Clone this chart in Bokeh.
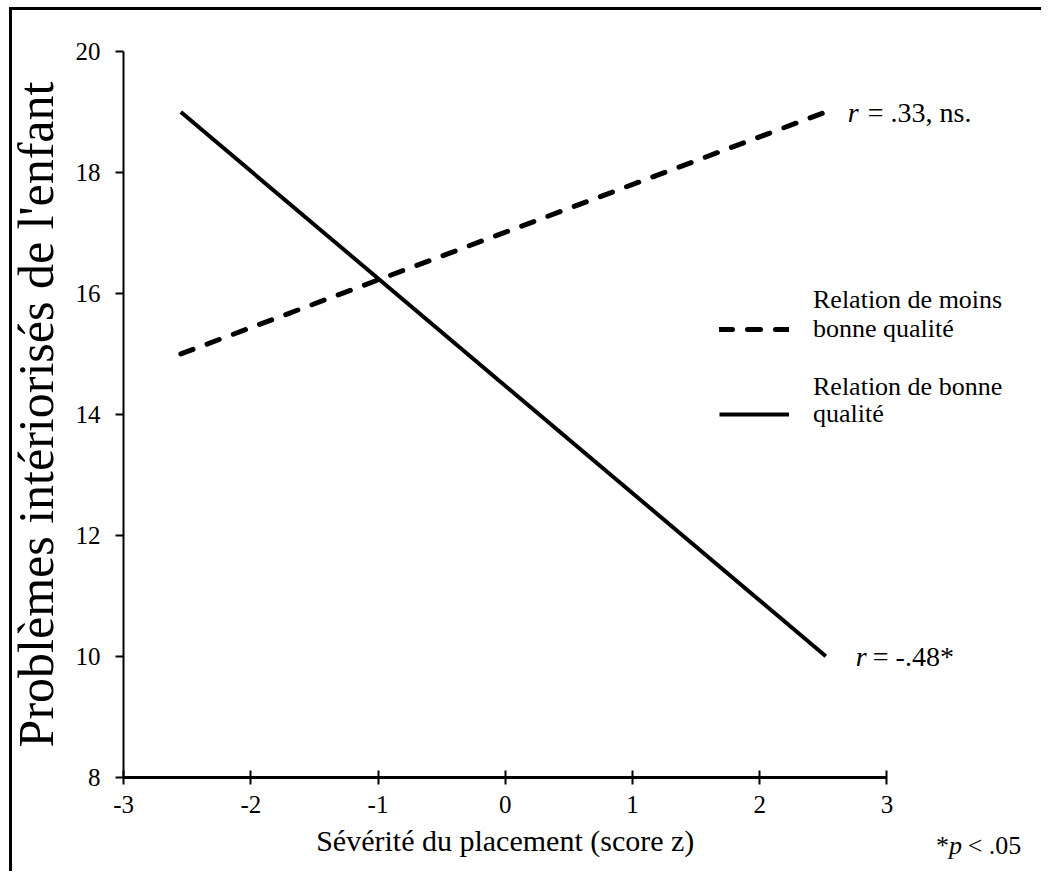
from bokeh.plotting import figure
from bokeh.models import Label, Legend, LegendItem, FixedTicker, Range1d
from bokeh.embed import file_html
from bokeh.resources import INLINE

# ---- data ----
x_ends = [-2.55, 2.52]
moins_bonne = [15, 19]      # Relation de moins bonne qualité (dashed)
bonne = [19, 10]            # Relation de bonne qualité (solid)
x_ticks = [-3, -2, -1, 0, 1, 2, 3]
y_ticks = [8, 10, 12, 14, 16, 18, 20]
r_moins = "= .33, ns."
r_bonne = "= -.48*"
x_title = "Sévérité du placement (score z)"
y_title = "Problèmes intériorisés de l'enfant"
legend_moins = ["Relation de moins", "bonne qualité"]
legend_bonne = ["Relation de bonne", "qualité"]
footnote = [("*", "normal"), ("p", "italic"), ("< .05", "normal")]

FONT = "Liberation Serif"

# ---- layout (canvas pixels) ----
W, H = 1041, 871
SX, SY = W / 1057, H / 887           # reference -> canvas scale
LEFT, TOP = 125 * SX, 52 * SY
AX_RIGHT, AX_BOTTOM = 900 * SX, 791 * SY
px_per_x = (AX_RIGHT - LEFT) / (x_ticks[-1] - x_ticks[0])
px_per_y = (AX_BOTTOM - TOP) / (y_ticks[-1] - y_ticks[0])
x_start = x_ticks[0] - LEFT / px_per_x
x_end = x_ticks[0] + (W - LEFT) / px_per_x
y_end = y_ticks[-1] + TOP / px_per_y
y_start = y_ticks[-1] - (H - TOP) / px_per_y

bg = ("linear-gradient(#000,#000) 9px 7px / 3px calc(100% - 7px) no-repeat, "
      "linear-gradient(#000,#000) 9px 7px / calc(100% - 9px) 3px no-repeat, white")

p = figure(frame_width=W, frame_height=H,
           x_range=Range1d(x_start, x_end), y_range=Range1d(y_start, y_end),
           min_border=0, min_border_left=0, min_border_top=0,
           min_border_right=0, min_border_bottom=0,
           output_backend="svg", toolbar_location=None,
           styles={"background": bg})

p.grid.visible = False
p.outline_line_color = None
p.background_fill_color = None
p.border_fill_color = None

# axes (pinned at x=-3 and y=8, spanning only the tick range)
p.xaxis.ticker = FixedTicker(ticks=x_ticks)
p.yaxis.ticker = FixedTicker(ticks=y_ticks)
p.xaxis.bounds = (x_ticks[0], x_ticks[-1])
p.yaxis.bounds = (y_ticks[0], y_ticks[-1])
p.xaxis.fixed_location = y_ticks[0]
p.yaxis.fixed_location = x_ticks[0]
p.xaxis.major_label_overrides = {t: str(t) for t in x_ticks}
for ax in (p.xaxis, p.yaxis):
    ax.axis_line_color = "black"
    ax.axis_line_width = 2
    ax.major_tick_line_color = "black"
    ax.major_tick_line_width = 2
    ax.minor_tick_line_color = None
    ax.major_label_text_font = FONT
    ax.major_label_text_font_size = "25px"
    ax.major_label_text_color = "black"
    ax.axis_label_text_font = FONT
    ax.axis_label_text_font_style = "normal"
    ax.axis_label_text_color = "black"

p.xaxis.major_tick_in = 7
p.xaxis.major_tick_out = 7
p.xaxis.axis_line_width = 3
p.xaxis.major_label_standoff = 12

p.yaxis.major_tick_in = 0
p.yaxis.major_tick_out = 8
p.yaxis.major_label_standoff = 15
p.yaxis.axis_label = y_title
p.yaxis.axis_label_text_font_size = "50px"
p.yaxis.axis_label_standoff = 9

# x axis title, centred under the tick span
p.add_layout(Label(x=(x_ticks[0] + x_ticks[-1]) / 2, y=y_ticks[0],
                   y_offset=-(855 - 791) * SY, text=x_title, text_font=FONT,
                   text_font_size="30px", text_align="center",
                   text_baseline="middle", text_color="black"))

# lines
dashed = p.line(x_ends, moins_bonne, line_color="black", line_width=5,
                line_dash="13 15", line_cap="round")
solid = p.line(x_ends, bonne, line_color="black", line_width=4)

# correlation labels
def rlabel(x, y, off_r, off_rest, rest):
    p.add_layout(Label(x=x, y=y, x_offset=off_r, text="r", text_font=FONT,
                       text_font_style="italic", text_font_size="28px",
                       text_baseline="middle", text_color="black"))
    p.add_layout(Label(x=x, y=y, x_offset=off_rest, text=rest, text_font=FONT,
                       text_font_size="28px", text_baseline="middle",
                       text_color="black"))

rlabel(x_ends[-1], moins_bonne[-1], 22, 42, r_moins)
rlabel(x_ends[-1], bonne[-1], 30, 47, r_bonne)

# legends (one per entry); positions in frame screen pixels
def add_legend(renderer, lines, item_cy, first_cy):
    leg = Legend(items=[LegendItem(label=lines[1], renderers=[renderer])],
                 location=(730 * SX, H - item_cy * SY - 15),
                 glyph_width=70, glyph_height=30,
                 label_height=30, label_standoff=24, padding=0, margin=0,
                 border_line_alpha=0, background_fill_alpha=0,
                 label_text_font=FONT, label_text_font_size="26px",
                 label_text_color="black")
    p.add_layout(leg)
    p.add_layout(Label(x=825 * SX, y=H - first_cy * SY,
                       x_units="screen", y_units="screen",
                       text=lines[0], text_font=FONT, text_font_size="26px",
                       text_baseline="middle", text_color="black"))

add_legend(dashed, legend_moins, 335, 305)
add_legend(solid, legend_bonne, 422, 393)

# footnote *p < .05
for (txt, style), xr in zip(footnote, [950, 963, 982]):
    p.add_layout(Label(x=xr * SX, y=H - 861 * SY,
                       x_units="screen", y_units="screen", text=txt,
                       text_font=FONT, text_font_style=style, text_font_size="26px",
                       text_baseline="middle", text_color="black"))

open("out.html", "w").write(file_html(p, INLINE))
